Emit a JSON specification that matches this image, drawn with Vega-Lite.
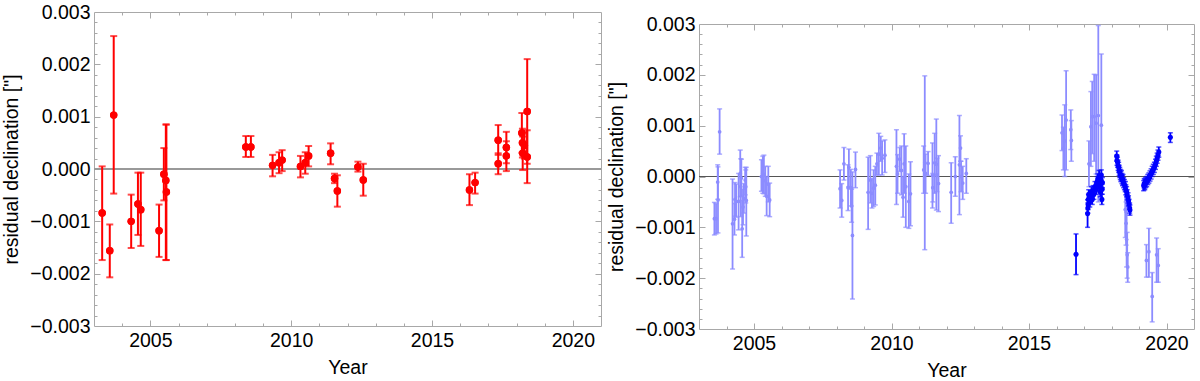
{
  "$schema": "https://vega.github.io/schema/vega-lite/v6.json",
  "background": "white",
  "padding": {"left": 1, "top": 1, "right": 0, "bottom": 0},
  "spacing": 3,
  "config": {
    "font": "Liberation Sans",
    "view": {"stroke": "#a8a8a8", "strokeWidth": 1},
    "axis": {"domain": false, "grid": false, "labelFont": "Liberation Sans", "labelFontSize": 19.5, "labelColor": "black", "titleFont": "Liberation Sans", "titleFontSize": 19.5, "titleFontWeight": "normal", "titleColor": "black", "tickColor": "#a8a8a8", "tickWidth": 1, "labelOverlap": false, "labelFlush": false, "labelBound": false}
  },
  "datasets": {
    "left": [
      {"year": 2003.29, "v": -0.00084, "lo": -0.00174, "hi": 0.00005},
      {"year": 2003.56, "v": -0.00156, "lo": -0.00207, "hi": -0.00106},
      {"year": 2003.70, "v": 0.00103, "lo": -0.00047, "hi": 0.00254},
      {"year": 2004.32, "v": -0.00100, "lo": -0.00151, "hi": -0.00049},
      {"year": 2004.56, "v": -0.00067, "lo": -0.00126, "hi": -0.00007},
      {"year": 2004.66, "v": -0.00078, "lo": -0.00147, "hi": -0.00007},
      {"year": 2005.31, "v": -0.00118, "lo": -0.00168, "hi": -0.00068},
      {"year": 2005.48, "v": -0.00010, "lo": -0.00060, "hi": 0.00040},
      {"year": 2005.55, "v": -0.00022, "lo": -0.00174, "hi": 0.00085},
      {"year": 2005.57, "v": -0.00044, "lo": -0.00174, "hi": 0.00085},
      {"year": 2008.39, "v": 0.00042, "lo": 0.00023, "hi": 0.00063},
      {"year": 2008.57, "v": 0.00042, "lo": 0.00023, "hi": 0.00063},
      {"year": 2009.34, "v": 0.00007, "lo": -0.00014, "hi": 0.00027},
      {"year": 2009.57, "v": 0.00012, "lo": -0.00008, "hi": 0.00032},
      {"year": 2009.68, "v": 0.00017, "lo": -0.00004, "hi": 0.00036},
      {"year": 2010.33, "v": 0.00005, "lo": -0.00016, "hi": 0.00025},
      {"year": 2010.50, "v": 0.00012, "lo": -0.00009, "hi": 0.00032},
      {"year": 2010.62, "v": 0.00025, "lo": 0.00005, "hi": 0.00044},
      {"year": 2011.40, "v": 0.00030, "lo": 0.00009, "hi": 0.00049},
      {"year": 2011.54, "v": -0.00018, "lo": -0.00027, "hi": -0.00009},
      {"year": 2011.64, "v": -0.00042, "lo": -0.00072, "hi": -0.00012},
      {"year": 2012.37, "v": 0.00004, "lo": -0.00005, "hi": 0.00014},
      {"year": 2012.56, "v": -0.00021, "lo": -0.00051, "hi": 0.00010},
      {"year": 2016.33, "v": -0.00040, "lo": -0.00069, "hi": -0.00010},
      {"year": 2016.53, "v": -0.00026, "lo": -0.00047, "hi": -0.00007},
      {"year": 2017.35, "v": 0.00055, "lo": 0.00027, "hi": 0.00084},
      {"year": 2017.35, "v": 0.00010, "lo": -0.00010, "hi": 0.00030},
      {"year": 2017.64, "v": 0.00041, "lo": 0.00011, "hi": 0.00071},
      {"year": 2017.64, "v": 0.00025, "lo": -0.00004, "hi": 0.00053},
      {"year": 2018.19, "v": 0.00069, "lo": 0.00031, "hi": 0.00107},
      {"year": 2018.21, "v": 0.00050, "lo": 0.00022, "hi": 0.00077},
      {"year": 2018.22, "v": 0.00030, "lo": -0.00002, "hi": 0.00062},
      {"year": 2018.28, "v": 0.00045, "lo": 0.00020, "hi": 0.00070},
      {"year": 2018.38, "v": 0.00110, "lo": 0.00010, "hi": 0.00210},
      {"year": 2018.38, "v": 0.00023, "lo": -0.00027, "hi": 0.00074}
    ],
    "right": [
      {"year": 2003.56, "v": -0.00083, "lo": -0.00115, "hi": -0.00051, "set": "light"},
      {"year": 2003.62, "v": -0.00083, "lo": -0.00113, "hi": -0.00053, "set": "light"},
      {"year": 2003.68, "v": -0.00011, "lo": -0.00045, "hi": 0.00023, "set": "light"},
      {"year": 2003.69, "v": -0.00046, "lo": -0.00111, "hi": 0.00019, "set": "light"},
      {"year": 2003.75, "v": 0.00088, "lo": 0.00044, "hi": 0.00133, "set": "light"},
      {"year": 2004.22, "v": -0.00093, "lo": -0.00182, "hi": -0.00005, "set": "light"},
      {"year": 2004.29, "v": -0.00084, "lo": -0.00115, "hi": -0.00053, "set": "light"},
      {"year": 2004.31, "v": -0.00045, "lo": -0.00078, "hi": -0.00012, "set": "light"},
      {"year": 2004.35, "v": -0.00049, "lo": -0.00080, "hi": -0.00015, "set": "light"},
      {"year": 2004.44, "v": -0.00049, "lo": -0.00105, "hi": 0.00006, "set": "light"},
      {"year": 2004.50, "v": 0.00006, "lo": -0.00040, "hi": 0.00052, "set": "light"},
      {"year": 2004.52, "v": -0.00020, "lo": -0.00079, "hi": 0.00035, "set": "light"},
      {"year": 2004.54, "v": -0.00003, "lo": -0.00039, "hi": 0.00034, "set": "light"},
      {"year": 2004.57, "v": -0.00103, "lo": -0.00159, "hi": -0.00047, "set": "light"},
      {"year": 2004.60, "v": -0.00060, "lo": -0.00095, "hi": -0.00025, "set": "light"},
      {"year": 2004.63, "v": -0.00043, "lo": -0.00072, "hi": -0.00014, "set": "light"},
      {"year": 2004.68, "v": -0.00007, "lo": -0.00036, "hi": 0.00018, "set": "light"},
      {"year": 2004.70, "v": -0.00020, "lo": -0.00052, "hi": 0.00013, "set": "light"},
      {"year": 2004.72, "v": -0.00047, "lo": -0.00117, "hi": 0.00018, "set": "light"},
      {"year": 2005.27, "v": 0.00000, "lo": -0.00029, "hi": 0.00033, "set": "light"},
      {"year": 2005.32, "v": 0.00006, "lo": -0.00033, "hi": 0.00040, "set": "light"},
      {"year": 2005.36, "v": 0.00003, "lo": -0.00034, "hi": 0.00042, "set": "light"},
      {"year": 2005.41, "v": -0.00008, "lo": -0.00039, "hi": 0.00020, "set": "light"},
      {"year": 2005.46, "v": -0.00039, "lo": -0.00077, "hi": 0.00000, "set": "light"},
      {"year": 2005.52, "v": -0.00015, "lo": -0.00050, "hi": 0.00020, "set": "light"},
      {"year": 2005.57, "v": -0.00046, "lo": -0.00079, "hi": -0.00013, "set": "light"},
      {"year": 2008.13, "v": -0.00024, "lo": -0.00062, "hi": 0.00013, "set": "light"},
      {"year": 2008.19, "v": -0.00047, "lo": -0.00080, "hi": -0.00014, "set": "light"},
      {"year": 2008.27, "v": 0.00025, "lo": -0.00007, "hi": 0.00057, "set": "light"},
      {"year": 2008.42, "v": -0.00022, "lo": -0.00067, "hi": 0.00023, "set": "light"},
      {"year": 2008.45, "v": 0.00018, "lo": -0.00020, "hi": 0.00054, "set": "light"},
      {"year": 2008.52, "v": -0.00022, "lo": -0.00058, "hi": 0.00014, "set": "light"},
      {"year": 2008.55, "v": -0.00058, "lo": -0.00090, "hi": -0.00025, "set": "light"},
      {"year": 2008.58, "v": -0.00116, "lo": -0.00241, "hi": 0.00009, "set": "light"},
      {"year": 2008.69, "v": 0.00014, "lo": -0.00022, "hi": 0.00048, "set": "light"},
      {"year": 2009.15, "v": -0.00031, "lo": -0.00104, "hi": 0.00038, "set": "light"},
      {"year": 2009.23, "v": -0.00007, "lo": -0.00052, "hi": 0.00041, "set": "light"},
      {"year": 2009.29, "v": -0.00033, "lo": -0.00062, "hi": -0.00004, "set": "light"},
      {"year": 2009.35, "v": -0.00023, "lo": -0.00059, "hi": 0.00013, "set": "light"},
      {"year": 2009.41, "v": -0.00017, "lo": -0.00056, "hi": 0.00020, "set": "light"},
      {"year": 2009.47, "v": 0.00025, "lo": 0.00003, "hi": 0.00046, "set": "light"},
      {"year": 2009.54, "v": 0.00044, "lo": 0.00003, "hi": 0.00085, "set": "light"},
      {"year": 2009.61, "v": 0.00056, "lo": 0.00030, "hi": 0.00079, "set": "light"},
      {"year": 2009.66, "v": 0.00036, "lo": 0.00003, "hi": 0.00070, "set": "light"},
      {"year": 2009.76, "v": 0.00042, "lo": 0.00008, "hi": 0.00072, "set": "light"},
      {"year": 2010.18, "v": 0.00020, "lo": -0.00055, "hi": 0.00092, "set": "light"},
      {"year": 2010.22, "v": 0.00005, "lo": -0.00033, "hi": 0.00043, "set": "light"},
      {"year": 2010.30, "v": 0.00034, "lo": 0.00010, "hi": 0.00057, "set": "light"},
      {"year": 2010.36, "v": 0.00012, "lo": -0.00036, "hi": 0.00060, "set": "light"},
      {"year": 2010.42, "v": -0.00041, "lo": -0.00080, "hi": 0.00000, "set": "light"},
      {"year": 2010.46, "v": 0.00025, "lo": -0.00033, "hi": 0.00084, "set": "light"},
      {"year": 2010.52, "v": -0.00020, "lo": -0.00100, "hi": 0.00060, "set": "light"},
      {"year": 2010.63, "v": -0.00049, "lo": -0.00102, "hi": 0.00005, "set": "light"},
      {"year": 2010.69, "v": -0.00034, "lo": -0.00097, "hi": 0.00029, "set": "light"},
      {"year": 2011.17, "v": 0.00013, "lo": -0.00033, "hi": 0.00060, "set": "light"},
      {"year": 2011.21, "v": 0.00027, "lo": -0.00144, "hi": 0.00198, "set": "light"},
      {"year": 2011.24, "v": 0.00006, "lo": -0.00033, "hi": 0.00044, "set": "light"},
      {"year": 2011.33, "v": 0.00026, "lo": 0.00002, "hi": 0.00049, "set": "light"},
      {"year": 2011.49, "v": 0.00002, "lo": -0.00062, "hi": 0.00066, "set": "light"},
      {"year": 2011.50, "v": -0.00022, "lo": -0.00050, "hi": 0.00006, "set": "light"},
      {"year": 2011.57, "v": 0.00027, "lo": -0.00033, "hi": 0.00085, "set": "light"},
      {"year": 2011.63, "v": 0.00024, "lo": -0.00066, "hi": 0.00113, "set": "light"},
      {"year": 2011.65, "v": 0.00003, "lo": -0.00030, "hi": 0.00036, "set": "light"},
      {"year": 2011.71, "v": -0.00014, "lo": -0.00069, "hi": 0.00041, "set": "light"},
      {"year": 2012.17, "v": -0.00031, "lo": -0.00092, "hi": 0.00027, "set": "light"},
      {"year": 2012.32, "v": 0.00000, "lo": -0.00039, "hi": 0.00039, "set": "light"},
      {"year": 2012.47, "v": 0.00023, "lo": -0.00075, "hi": 0.00120, "set": "light"},
      {"year": 2012.51, "v": 0.00056, "lo": 0.00030, "hi": 0.00080, "set": "light"},
      {"year": 2012.53, "v": 0.00000, "lo": -0.00030, "hi": 0.00030, "set": "light"},
      {"year": 2012.59, "v": -0.00013, "lo": -0.00045, "hi": 0.00020, "set": "light"},
      {"year": 2012.72, "v": 0.00006, "lo": -0.00033, "hi": 0.00035, "set": "light"},
      {"year": 2016.20, "v": 0.00086, "lo": 0.00051, "hi": 0.00121, "set": "light"},
      {"year": 2016.25, "v": 0.00055, "lo": 0.00013, "hi": 0.00097, "set": "light"},
      {"year": 2016.30, "v": 0.00070, "lo": 0.00000, "hi": 0.00141, "set": "light"},
      {"year": 2016.35, "v": 0.00111, "lo": 0.00013, "hi": 0.00208, "set": "light"},
      {"year": 2016.52, "v": 0.00092, "lo": 0.00053, "hi": 0.00131, "set": "light"},
      {"year": 2016.54, "v": 0.00071, "lo": 0.00030, "hi": 0.00110, "set": "light"},
      {"year": 2017.18, "v": 0.00025, "lo": -0.00020, "hi": 0.00070, "set": "light"},
      {"year": 2017.25, "v": 0.00098, "lo": 0.00020, "hi": 0.00167, "set": "light"},
      {"year": 2017.30, "v": 0.00118, "lo": 0.00045, "hi": 0.00187, "set": "light"},
      {"year": 2017.37, "v": 0.00118, "lo": 0.00030, "hi": 0.00201, "set": "light"},
      {"year": 2017.44, "v": 0.00105, "lo": 0.00005, "hi": 0.00200, "set": "light"},
      {"year": 2017.52, "v": 0.00120, "lo": -0.00050, "hi": 0.00297, "set": "light"},
      {"year": 2017.63, "v": 0.00101, "lo": -0.00020, "hi": 0.00241, "set": "light"},
      {"year": 2018.50, "v": -0.00065, "lo": -0.00120, "hi": -0.00010, "set": "light"},
      {"year": 2018.53, "v": -0.00092, "lo": -0.00135, "hi": -0.00050, "set": "light"},
      {"year": 2018.55, "v": -0.00124, "lo": -0.00178, "hi": -0.00070, "set": "light"},
      {"year": 2018.57, "v": -0.00154, "lo": -0.00200, "hi": -0.00110, "set": "light"},
      {"year": 2018.59, "v": -0.00178, "lo": -0.00208, "hi": -0.00150, "set": "light"},
      {"year": 2019.27, "v": -0.00165, "lo": -0.00198, "hi": -0.00134, "set": "light"},
      {"year": 2019.36, "v": -0.00148, "lo": -0.00198, "hi": -0.00102, "set": "light"},
      {"year": 2019.48, "v": -0.00236, "lo": -0.00286, "hi": -0.00189, "set": "light"},
      {"year": 2019.64, "v": -0.00154, "lo": -0.00208, "hi": -0.00121, "set": "light"},
      {"year": 2019.70, "v": -0.00175, "lo": -0.00208, "hi": -0.00142, "set": "light"},
      {"year": 2016.71, "v": -0.00153, "lo": -0.00193, "hi": -0.00113, "set": "dark"},
      {"year": 2017.13, "v": -0.00073, "lo": -0.00100, "hi": -0.00046, "set": "dark"},
      {"year": 2017.14, "v": -0.00062, "lo": -0.00072, "hi": -0.00052, "set": "dark"},
      {"year": 2017.15, "v": -0.00055, "lo": -0.00065, "hi": -0.00045, "set": "dark"},
      {"year": 2017.16, "v": -0.00045, "lo": -0.00055, "hi": -0.00035, "set": "dark"},
      {"year": 2017.17, "v": -0.00036, "lo": -0.00046, "hi": -0.00026, "set": "dark"},
      {"year": 2017.19, "v": -0.00042, "lo": -0.00052, "hi": -0.00032, "set": "dark"},
      {"year": 2017.21, "v": -0.00050, "lo": -0.00060, "hi": -0.00040, "set": "dark"},
      {"year": 2017.24, "v": -0.00038, "lo": -0.00048, "hi": -0.00028, "set": "dark"},
      {"year": 2017.27, "v": -0.00030, "lo": -0.00040, "hi": -0.00020, "set": "dark"},
      {"year": 2017.30, "v": -0.00045, "lo": -0.00055, "hi": -0.00035, "set": "dark"},
      {"year": 2017.33, "v": -0.00028, "lo": -0.00038, "hi": -0.00018, "set": "dark"},
      {"year": 2017.36, "v": -0.00035, "lo": -0.00045, "hi": -0.00025, "set": "dark"},
      {"year": 2017.40, "v": -0.00020, "lo": -0.00030, "hi": -0.00010, "set": "dark"},
      {"year": 2017.44, "v": -0.00025, "lo": -0.00035, "hi": -0.00015, "set": "dark"},
      {"year": 2017.48, "v": -0.00010, "lo": -0.00020, "hi": 0.00000, "set": "dark"},
      {"year": 2017.50, "v": -0.00005, "lo": -0.00015, "hi": 0.00005, "set": "dark"},
      {"year": 2017.52, "v": -0.00015, "lo": -0.00025, "hi": -0.00005, "set": "dark"},
      {"year": 2017.55, "v": 0.00002, "lo": -0.00008, "hi": 0.00012, "set": "dark"},
      {"year": 2017.57, "v": -0.00020, "lo": -0.00030, "hi": -0.00010, "set": "dark"},
      {"year": 2017.59, "v": -0.00030, "lo": -0.00040, "hi": -0.00020, "set": "dark"},
      {"year": 2017.61, "v": -0.00010, "lo": -0.00020, "hi": 0.00000, "set": "dark"},
      {"year": 2017.63, "v": 0.00003, "lo": -0.00007, "hi": 0.00013, "set": "dark"},
      {"year": 2017.65, "v": -0.00045, "lo": -0.00055, "hi": -0.00035, "set": "dark"},
      {"year": 2017.66, "v": -0.00025, "lo": -0.00035, "hi": -0.00015, "set": "dark"},
      {"year": 2017.67, "v": -0.00012, "lo": -0.00022, "hi": -0.00002, "set": "dark"},
      {"year": 2018.19, "v": 0.00040, "lo": 0.00030, "hi": 0.00050, "set": "dark"},
      {"year": 2018.20, "v": 0.00032, "lo": 0.00022, "hi": 0.00042, "set": "dark"},
      {"year": 2018.22, "v": 0.00028, "lo": 0.00018, "hi": 0.00038, "set": "dark"},
      {"year": 2018.24, "v": 0.00022, "lo": 0.00012, "hi": 0.00032, "set": "dark"},
      {"year": 2018.26, "v": 0.00018, "lo": 0.00008, "hi": 0.00028, "set": "dark"},
      {"year": 2018.28, "v": 0.00012, "lo": 0.00002, "hi": 0.00022, "set": "dark"},
      {"year": 2018.30, "v": 0.00008, "lo": -0.00002, "hi": 0.00018, "set": "dark"},
      {"year": 2018.32, "v": 0.00004, "lo": -0.00006, "hi": 0.00014, "set": "dark"},
      {"year": 2018.34, "v": 0.00000, "lo": -0.00010, "hi": 0.00010, "set": "dark"},
      {"year": 2018.36, "v": 0.00002, "lo": -0.00008, "hi": 0.00012, "set": "dark"},
      {"year": 2018.38, "v": -0.00004, "lo": -0.00014, "hi": 0.00006, "set": "dark"},
      {"year": 2018.40, "v": -0.00008, "lo": -0.00018, "hi": 0.00002, "set": "dark"},
      {"year": 2018.42, "v": -0.00006, "lo": -0.00016, "hi": 0.00004, "set": "dark"},
      {"year": 2018.44, "v": -0.00012, "lo": -0.00022, "hi": -0.00002, "set": "dark"},
      {"year": 2018.47, "v": -0.00016, "lo": -0.00026, "hi": -0.00006, "set": "dark"},
      {"year": 2018.50, "v": -0.00020, "lo": -0.00030, "hi": -0.00010, "set": "dark"},
      {"year": 2018.52, "v": -0.00026, "lo": -0.00036, "hi": -0.00016, "set": "dark"},
      {"year": 2018.55, "v": -0.00030, "lo": -0.00040, "hi": -0.00020, "set": "dark"},
      {"year": 2018.57, "v": -0.00036, "lo": -0.00046, "hi": -0.00026, "set": "dark"},
      {"year": 2018.60, "v": -0.00042, "lo": -0.00052, "hi": -0.00032, "set": "dark"},
      {"year": 2018.62, "v": -0.00048, "lo": -0.00058, "hi": -0.00038, "set": "dark"},
      {"year": 2018.64, "v": -0.00055, "lo": -0.00065, "hi": -0.00045, "set": "dark"},
      {"year": 2018.66, "v": -0.00062, "lo": -0.00072, "hi": -0.00052, "set": "dark"},
      {"year": 2018.67, "v": -0.00066, "lo": -0.00076, "hi": -0.00056, "set": "dark"},
      {"year": 2019.17, "v": -0.00018, "lo": -0.00028, "hi": -0.00008, "set": "dark"},
      {"year": 2019.19, "v": -0.00014, "lo": -0.00024, "hi": -0.00004, "set": "dark"},
      {"year": 2019.21, "v": -0.00016, "lo": -0.00026, "hi": -0.00006, "set": "dark"},
      {"year": 2019.24, "v": -0.00012, "lo": -0.00022, "hi": -0.00002, "set": "dark"},
      {"year": 2019.28, "v": -0.00010, "lo": -0.00020, "hi": 0.00000, "set": "dark"},
      {"year": 2019.32, "v": -0.00006, "lo": -0.00016, "hi": 0.00004, "set": "dark"},
      {"year": 2019.36, "v": -0.00003, "lo": -0.00013, "hi": 0.00007, "set": "dark"},
      {"year": 2019.40, "v": 0.00001, "lo": -0.00009, "hi": 0.00011, "set": "dark"},
      {"year": 2019.44, "v": 0.00005, "lo": -0.00005, "hi": 0.00015, "set": "dark"},
      {"year": 2019.48, "v": 0.00010, "lo": 0.00000, "hi": 0.00020, "set": "dark"},
      {"year": 2019.52, "v": 0.00014, "lo": 0.00004, "hi": 0.00024, "set": "dark"},
      {"year": 2019.56, "v": 0.00018, "lo": 0.00008, "hi": 0.00028, "set": "dark"},
      {"year": 2019.60, "v": 0.00024, "lo": 0.00014, "hi": 0.00034, "set": "dark"},
      {"year": 2019.63, "v": 0.00030, "lo": 0.00020, "hi": 0.00040, "set": "dark"},
      {"year": 2019.66, "v": 0.00036, "lo": 0.00026, "hi": 0.00046, "set": "dark"},
      {"year": 2019.69, "v": 0.00042, "lo": 0.00032, "hi": 0.00052, "set": "dark"},
      {"year": 2019.72, "v": 0.00048, "lo": 0.00038, "hi": 0.00058, "set": "dark"},
      {"year": 2020.14, "v": 0.00077, "lo": 0.00067, "hi": 0.00086, "set": "dark"}
    ]
  },
  "hconcat": [
    {
      "width": 507,
      "height": 314,
      "data": {"name": "left"},
      "resolve": {"axis": {"x": "independent", "y": "independent"}},
      "layer": [
        {
          "mark": {"type": "rule", "color": "#999999", "strokeWidth": 2},
          "encoding": {"y": {"datum": 0, "type": "quantitative", "axis": null}}
        },
        {
          "mark": {"type": "rule", "color": "#ff0000", "strokeWidth": 2},
          "encoding": {
            "x": {"field": "year", "type": "quantitative", "scale": {"domain": [2003, 2021], "nice": false, "zero": false},
                  "axis": {"orient": "bottom", "values": [2005, 2010, 2015, 2020], "ticks": false, "format": "d", "labelPadding": 5, "title": "Year", "titlePadding": 9}},
            "y": {"field": "lo", "type": "quantitative", "scale": {"domain": [-0.003, 0.003], "nice": false, "zero": false},
                  "axis": {"orient": "left", "values": [-0.003, -0.002, -0.001, 0, 0.001, 0.002, 0.003], "ticks": false, "format": ".3f", "labelPadding": 4, "title": "residual declination [\"]", "titlePadding": 8}},
            "y2": {"field": "hi"}
          }
        },
        {
          "mark": {"type": "tick", "orient": "horizontal", "color": "#ff0000", "size": 7, "thickness": 2},
          "encoding": {
            "x": {"field": "year", "type": "quantitative", "axis": {"orient": "bottom", "values": [2005, 2010, 2015, 2020], "labels": false, "tickSize": -6, "title": null}},
            "y": {"field": "lo", "type": "quantitative", "axis": {"orient": "left", "values": [-0.002, -0.001, 0, 0.001, 0.002], "labels": false, "tickSize": -6, "title": null}}
          }
        },
        {
          "mark": {"type": "tick", "orient": "horizontal", "color": "#ff0000", "size": 7, "thickness": 2},
          "encoding": {
            "x": {"field": "year", "type": "quantitative", "axis": {"orient": "bottom", "values": [2004, 2006, 2007, 2008, 2009, 2011, 2012, 2013, 2014, 2016, 2017, 2018, 2019], "labels": false, "tickSize": -3, "title": null}},
            "y": {"field": "hi", "type": "quantitative", "axis": {"orient": "left", "values": [-0.0028, -0.0026, -0.0024, -0.0022, -0.0018, -0.0016, -0.0014, -0.0012, -0.0008, -0.0006, -0.0004, -0.0002, 0.0002, 0.0004, 0.0006, 0.0008, 0.0012, 0.0014, 0.0016, 0.0018, 0.0022, 0.0024, 0.0026, 0.0028], "labels": false, "tickSize": -3, "title": null}}
          }
        },
        {
          "mark": {"type": "circle", "color": "#ff0000", "opacity": 1, "size": 55},
          "encoding": {
            "x": {"field": "year", "type": "quantitative", "axis": {"orient": "top", "values": [2005, 2010, 2015, 2020], "labels": false, "tickSize": -6, "title": null}},
            "y": {"field": "v", "type": "quantitative", "axis": {"orient": "right", "values": [-0.002, -0.001, 0, 0.001, 0.002], "labels": false, "tickSize": -6, "title": null}}
          }
        },
        {
          "mark": {"type": "circle", "color": "#ff0000", "opacity": 1, "size": 55},
          "encoding": {
            "x": {"field": "year", "type": "quantitative", "axis": {"orient": "top", "values": [2004, 2006, 2007, 2008, 2009, 2011, 2012, 2013, 2014, 2016, 2017, 2018, 2019], "labels": false, "tickSize": -3, "title": null}},
            "y": {"field": "v", "type": "quantitative", "axis": {"orient": "right", "values": [-0.0028, -0.0026, -0.0024, -0.0022, -0.0018, -0.0016, -0.0014, -0.0012, -0.0008, -0.0006, -0.0004, -0.0002, 0.0002, 0.0004, 0.0006, 0.0008, 0.0012, 0.0014, 0.0016, 0.0018, 0.0022, 0.0024, 0.0026, 0.0028], "labels": false, "tickSize": -3, "title": null}}
          }
        }
      ]
    },
    {
      "spacing": 0,
      "vconcat": [
        {
          "width": 495,
          "height": 1,
          "view": {"stroke": null},
          "data": {"values": []},
          "mark": "point",
          "encoding": {}
        },
        {
          "width": 495,
          "height": 305,
          "data": {"name": "right"},
          "resolve": {"axis": {"x": "independent", "y": "independent"}},
          "layer": [
            {
              "mark": {"type": "rule", "color": "#555555", "strokeWidth": 1.2},
              "encoding": {"y": {"datum": 0, "type": "quantitative", "axis": null}}
            },
            {
              "mark": {"type": "rule", "strokeWidth": 1.8},
              "encoding": {
                "x": {"field": "year", "type": "quantitative", "scale": {"domain": [2003, 2021], "nice": false, "zero": false},
                      "axis": {"orient": "bottom", "values": [2005, 2010, 2015, 2020], "ticks": false, "format": "d", "labelPadding": 5, "title": "Year", "titlePadding": 9}},
                "y": {"field": "lo", "type": "quantitative", "scale": {"domain": [-0.003, 0.003], "nice": false, "zero": false},
                      "axis": {"orient": "left", "values": [-0.003, -0.002, -0.001, 0, 0.001, 0.002, 0.003], "ticks": false, "format": ".3f", "labelPadding": 4, "title": "residual declination [\"]", "titlePadding": 8}},
                "y2": {"field": "hi"},
                "color": {"field": "set", "type": "nominal", "scale": {"domain": ["light", "dark"], "range": ["#8c8cff", "#0000ff"]}, "legend": null}
              }
            },
            {
              "mark": {"type": "tick", "orient": "horizontal", "size": 5, "thickness": 1.5},
              "encoding": {
                "x": {"field": "year", "type": "quantitative", "axis": {"orient": "bottom", "values": [2005, 2010, 2015, 2020], "labels": false, "tickSize": -6, "title": null}},
                "y": {"field": "lo", "type": "quantitative", "axis": {"orient": "left", "values": [-0.002, -0.001, 0, 0.001, 0.002], "labels": false, "tickSize": -6, "title": null}},
                "color": {"field": "set", "type": "nominal", "legend": null}
              }
            },
            {
              "mark": {"type": "tick", "orient": "horizontal", "size": 5, "thickness": 1.5},
              "encoding": {
                "x": {"field": "year", "type": "quantitative", "axis": {"orient": "bottom", "values": [2004, 2006, 2007, 2008, 2009, 2011, 2012, 2013, 2014, 2016, 2017, 2018, 2019], "labels": false, "tickSize": -3, "title": null}},
                "y": {"field": "hi", "type": "quantitative", "axis": {"orient": "left", "values": [-0.0028, -0.0026, -0.0024, -0.0022, -0.0018, -0.0016, -0.0014, -0.0012, -0.0008, -0.0006, -0.0004, -0.0002, 0.0002, 0.0004, 0.0006, 0.0008, 0.0012, 0.0014, 0.0016, 0.0018, 0.0022, 0.0024, 0.0026, 0.0028], "labels": false, "tickSize": -3, "title": null}},
                "color": {"field": "set", "type": "nominal", "legend": null}
              }
            },
            {
              "mark": {"type": "circle", "opacity": 1},
              "encoding": {
                "x": {"field": "year", "type": "quantitative", "axis": {"orient": "top", "values": [2005, 2010, 2015, 2020], "labels": false, "tickSize": -6, "title": null}},
                "y": {"field": "v", "type": "quantitative", "axis": {"orient": "right", "values": [-0.002, -0.001, 0, 0.001, 0.002], "labels": false, "tickSize": -6, "title": null}},
                "color": {"field": "set", "type": "nominal", "legend": null},
                "size": {"field": "set", "type": "nominal", "scale": {"domain": ["light", "dark"], "range": [14, 26]}, "legend": null}
              }
            },
            {
              "mark": {"type": "circle", "opacity": 0},
              "encoding": {
                "x": {"field": "year", "type": "quantitative", "axis": {"orient": "top", "values": [2004, 2006, 2007, 2008, 2009, 2011, 2012, 2013, 2014, 2016, 2017, 2018, 2019], "labels": false, "tickSize": -3, "title": null}},
                "y": {"field": "v", "type": "quantitative", "axis": {"orient": "right", "values": [-0.0028, -0.0026, -0.0024, -0.0022, -0.0018, -0.0016, -0.0014, -0.0012, -0.0008, -0.0006, -0.0004, -0.0002, 0.0002, 0.0004, 0.0006, 0.0008, 0.0012, 0.0014, 0.0016, 0.0018, 0.0022, 0.0024, 0.0026, 0.0028], "labels": false, "tickSize": -3, "title": null}}
              }
            }
          ]
        }
      ]
    }
  ]
}
